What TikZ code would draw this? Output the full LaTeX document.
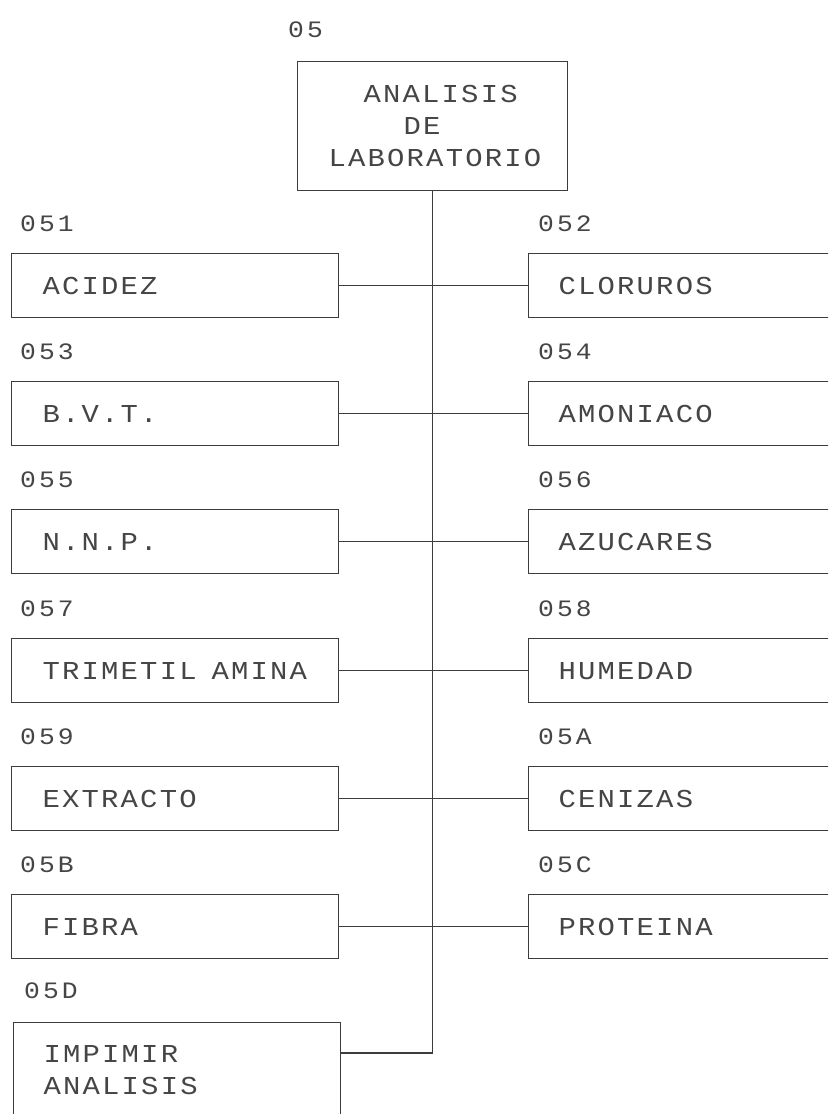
\documentclass[tikz,border=0pt]{standalone}
\usepackage{fontspec}
\newfontfamily\plotfont[FakeStretch=1.12,LetterSpace=8.5]{Liberation Mono}
\newfontfamily\codefont[FakeStretch=1.12,LetterSpace=13]{Liberation Mono}
\definecolor{txtgray}{HTML}{454545}
\definecolor{lngray}{HTML}{3C3C3C}
\begin{document}
\begin{tikzpicture}[x=1pt,y=-1pt,
  boxtext/.style={font=\plotfont\fontsize{25.8}{32}\selectfont, text=txtgray},
  codetext/.style={font=\codefont\fontsize{23.5}{28}\selectfont, text=txtgray, inner sep=0pt, anchor=base west},
  basebox/.style={boxtext, draw=lngray, line width=1.2pt, inner xsep=0pt, inner ysep=0pt, anchor=north west, align=left},
  lbox/.style={basebox, text width=327pt, minimum height=64pt, text height=17pt, text depth=0pt},
  rbox/.style={basebox, text width=360pt, minimum height=64pt, text height=17pt, text depth=0pt},
  conn/.style={draw=lngray, line width=1.2pt}]
\useasboundingbox (0,0) rectangle (828,1114);
\clip (0,0) rectangle (828,1114);
\fill[white] (0,0) rectangle (828,1114);
% top
\node[codetext] (c05) at (288,37) {05};
\node[basebox, text width=270pt, minimum height=129pt] (top) at (297,61)
  {\hspace*{66pt}ANALISIS\\\hspace*{106pt}DE\\\hspace*{31pt}LABORATORIO};
% rows
\foreach \i/\yc/\cl/\tl/\cr/\tr in {0/285/051/ACIDEZ/052/CLORUROS,
  1/413/053/B.V.T./054/AMONIACO,
  2/541/055/N.N.P./056/AZUCARES,
  3/670/057/TRIMETIL\hspace{15pt}AMINA/058/HUMEDAD,
  4/798/059/EXTRACTO/05A/CENIZAS,
  5/926/05B/FIBRA/05C/PROTEINA}{
  \node[lbox] (L\i) at (11,\yc-32) {\hspace*{31pt}\tl};
  \node[rbox] (R\i) at (528,\yc-32) {\hspace*{30pt}\tr};
  \node[codetext] (cL\i) at (20,\yc-54) {\cl};
  \node[codetext] (cR\i) at (538,\yc-54) {\cr};
  \draw[conn] (L\i.east) -- (R\i.west);
}
% bottom
\node[codetext] (c05D) at (24,998) {05D};
\node[basebox, text width=327pt, minimum height=96pt] (imp) at (13,1022)
  {\hspace*{30pt}IMPIMIR\\\hspace*{30pt}ANALISIS};
\coordinate (impc) at ([yshift=-31pt]imp.north east);
\draw[conn] (top.south) -- (top.south |- impc) -- (impc);
\end{tikzpicture}
\end{document}
